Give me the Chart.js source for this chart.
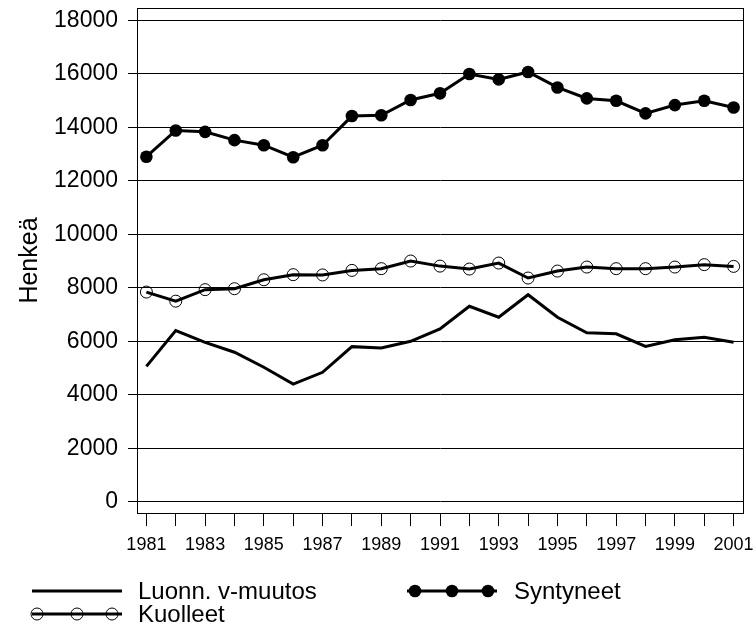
<!DOCTYPE html>
<html>
<head>
<meta charset="utf-8">
<script src="https://cdn.jsdelivr.net/npm/chart.js@4/dist/chart.umd.min.js"></script>
<style>
  html, body { margin: 0; padding: 0; background: #fff; }
  #wrap { position: relative; width: 753px; height: 631px; }
  #legend { position: absolute; left: 0; top: 0; width: 753px; height: 631px; pointer-events: none;
            font-family: "Liberation Sans", Arial, sans-serif; font-size: 24px; color: #000; }
  .item { position: absolute; display: flex; align-items: center; height: 24px; white-space: nowrap; }
  .item svg { display: block; }
</style>
</head>
<body>
<div id="wrap">
  <canvas id="chart" width="753" height="631"></canvas>
  <div id="legend"></div>
</div>
<script>
// --- DATA ---
const years = [1981, 1982, 1983, 1984, 1985, 1986, 1987, 1988, 1989, 1990, 1991,
               1992, 1993, 1994, 1995, 1996, 1997, 1998, 1999, 2000, 2001];
const syntyneet = [12900, 13880, 13830, 13520, 13330, 12880, 13330, 14420, 14450, 15020, 15270,
                   15990, 15790, 16070, 15490, 15080, 14990, 14520, 14830, 14990, 14740];
const kuolleet = [7840, 7500, 7930, 7965, 8300, 8490, 8480, 8650, 8715, 9000, 8810,
                  8700, 8925, 8365, 8625, 8775, 8715, 8715, 8775, 8865, 8800];
const muutos = [5060, 6400, 5960, 5590, 5030, 4400, 4840, 5800, 5750, 6000, 6465,
                7310, 6900, 7740, 6900, 6315, 6280, 5805, 6055, 6150, 5960];
const xLabelYears = [1981, 1983, 1985, 1987, 1989, 1991, 1993, 1995, 1997, 1999, 2001];
const yTicks = [0, 2000, 4000, 6000, 8000, 10000, 12000, 14000, 16000, 18000];
const seriesNames = ['Luonn. v-muutos', 'Kuolleet', 'Syntyneet'];

// --- FRAME (top/right border of the plot box) ---
const framePlugin = {
    id: 'frame',
    beforeDatasetsDraw(chart) {
        const { ctx, chartArea: a } = chart;
        ctx.save();
        ctx.strokeStyle = '#000';
        ctx.lineWidth = 1;
        ctx.strokeRect(Math.round(a.left) + 0.5, Math.round(a.top) + 0.5,
                       Math.round(a.right - a.left), Math.round(a.bottom - a.top));
        ctx.restore();
    }
};

// labels may hang over the plot box; don't let them shrink it
const noOverhang = s => { s.paddingTop = 0; s.paddingBottom = 0; s.paddingLeft = 0; s.paddingRight = 0; };

const toPoints = arr => years.map((y, i) => ({ x: y, y: arr[i] }));

new Chart(document.getElementById('chart'), {
    type: 'line',
    data: {
        datasets: [
            { label: seriesNames[0], data: toPoints(muutos), borderColor: '#000', borderWidth: 3,
              pointRadius: 0, tension: 0 },
            { label: seriesNames[1], data: toPoints(kuolleet), borderColor: '#000', borderWidth: 3,
              pointRadius: 6, pointBorderWidth: 1, pointBorderColor: '#000',
              pointBackgroundColor: 'rgba(0,0,0,0)', tension: 0 },
            { label: seriesNames[2], data: toPoints(syntyneet), borderColor: '#000', borderWidth: 3,
              pointRadius: 6.3, pointBorderWidth: 0, pointBackgroundColor: '#000', tension: 0 }
        ]
    },
    options: {
        responsive: false,
        animation: false,
        layout: { padding: { left: 0, right: 10, top: 8, bottom: 68 } },
        plugins: { legend: { display: false }, tooltip: { enabled: false } },
        scales: {
            x: {
                type: 'linear', min: 1980.68, max: 2001.32,
                afterBuildTicks: s => { s.ticks = years.map(v => ({ value: v })); },
                afterFit: s => { s.height = 50; noOverhang(s); },
                grid: { drawOnChartArea: false, drawTicks: true, tickLength: 13, color: '#000', lineWidth: 1 },
                border: { display: true, color: '#000', width: 1 },
                ticks: {
                    autoSkip: false, maxRotation: 0, minRotation: 0, padding: 8, color: '#000',
                    font: { family: '"Liberation Sans Narrow", "Liberation Sans", Arial, sans-serif', size: 18 },
                    callback: v => xLabelYears.includes(v) ? String(v) : ''
                }
            },
            y: {
                min: -420, max: 18460,
                afterBuildTicks: s => { s.ticks = yTicks.map(v => ({ value: v })); },
                afterFit: s => { s.width = 137; noOverhang(s); },
                grid: { color: '#000', lineWidth: 1, drawTicks: true, tickLength: 9 },
                border: { display: true, color: '#000', width: 1 },
                ticks: {
                    padding: 10, color: '#000',
                    font: { family: '"Liberation Sans", Arial, sans-serif', size: 23 },
                    callback: v => String(v)
                },
                title: {
                    display: true, text: 'Henkeä', color: '#000', padding: { top: 15, bottom: 0 },
                    font: { family: '"Liberation Sans", Arial, sans-serif', size: 25, weight: 'normal' }
                }
            }
        }
    },
    plugins: [framePlugin]
});

// --- LEGEND (html, two rows) ---
function symbol(kind) {
    let s = '<svg width="94" height="16" viewBox="0 0 94 16">' +
            '<line x1="2" y1="8" x2="92" y2="8" stroke="#000" stroke-width="3"/>';
    if (kind === 'open') {
        [7, 47, 82].forEach(cx => { s += `<circle cx="${cx}" cy="8" r="6" fill="none" stroke="#000" stroke-width="1"/>`; });
    } else if (kind === 'filled') {
        [10, 47, 83].forEach(cx => { s += `<circle cx="${cx}" cy="8" r="6.3" fill="#000"/>`; });
    }
    return s + '</svg>';
}
const legendItems = [
    { name: seriesNames[0], kind: 'line', left: 30, top: 579, gap: 14 },
    { name: seriesNames[2], kind: 'filled', left: 405, top: 579, gap: 15 },
    { name: seriesNames[1], kind: 'open', left: 30, top: 602, gap: 14 }
];
document.getElementById('legend').innerHTML = legendItems.map(it =>
    `<div class="item" style="left:${it.left}px;top:${it.top}px">${symbol(it.kind)}` +
    `<span style="margin-left:${it.gap}px">${it.name}</span></div>`).join('');
</script>
</body>
</html>
